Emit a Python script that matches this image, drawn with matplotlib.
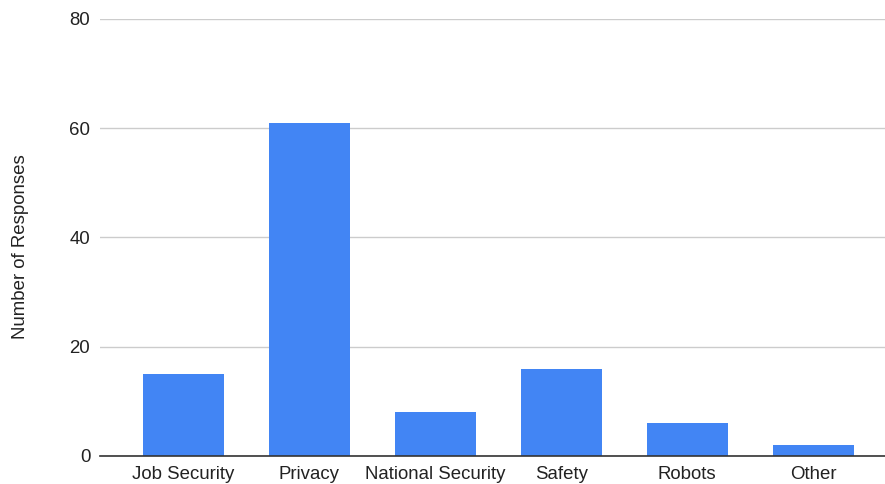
import matplotlib
matplotlib.use("Agg")
import matplotlib.pyplot as plt

categories = ["Job Security", "Privacy", "National Security", "Safety", "Robots", "Other"]
responses = [15, 61, 8, 16, 6, 2]
y_ticks = [0, 20, 40, 60, 80]

plt.rcParams["font.family"] = ["Liberation Sans", "DejaVu Sans"]

fig = plt.figure(figsize=(8.85, 4.84), dpi=100)
ax = fig.add_axes([100 / 885, 28 / 484, 785 / 885, 437 / 484])

x = range(len(categories))
ax.bar(x, responses, width=0.643, color="#4285f4", zorder=3)

ax.set_xlim(-0.663, 5.571)
ax.set_ylim(0, 80)
ax.set_yticks(y_ticks)
ax.set_xticks(list(x))
ax.set_xticklabels(categories)

ax.grid(axis="y", color="#cccccc", linewidth=1, zorder=0)
for side in ("top", "right", "left"):
    ax.spines[side].set_visible(False)
ax.spines["bottom"].set_color("#333333")
ax.spines["bottom"].set_linewidth(1.2)
ax.spines["bottom"].set_zorder(4)

ax.tick_params(axis="both", length=0, labelsize=13.4, colors="#222222")
ax.tick_params(axis="y", pad=7)
ax.tick_params(axis="x", pad=7)

ax.set_ylabel("Number of Responses", fontsize=13.4, color="#222222")
ax.yaxis.set_label_coords((29 - 100) / 785, (456 - 246.5) / 437)

fig.savefig("out.png", dpi=100)
